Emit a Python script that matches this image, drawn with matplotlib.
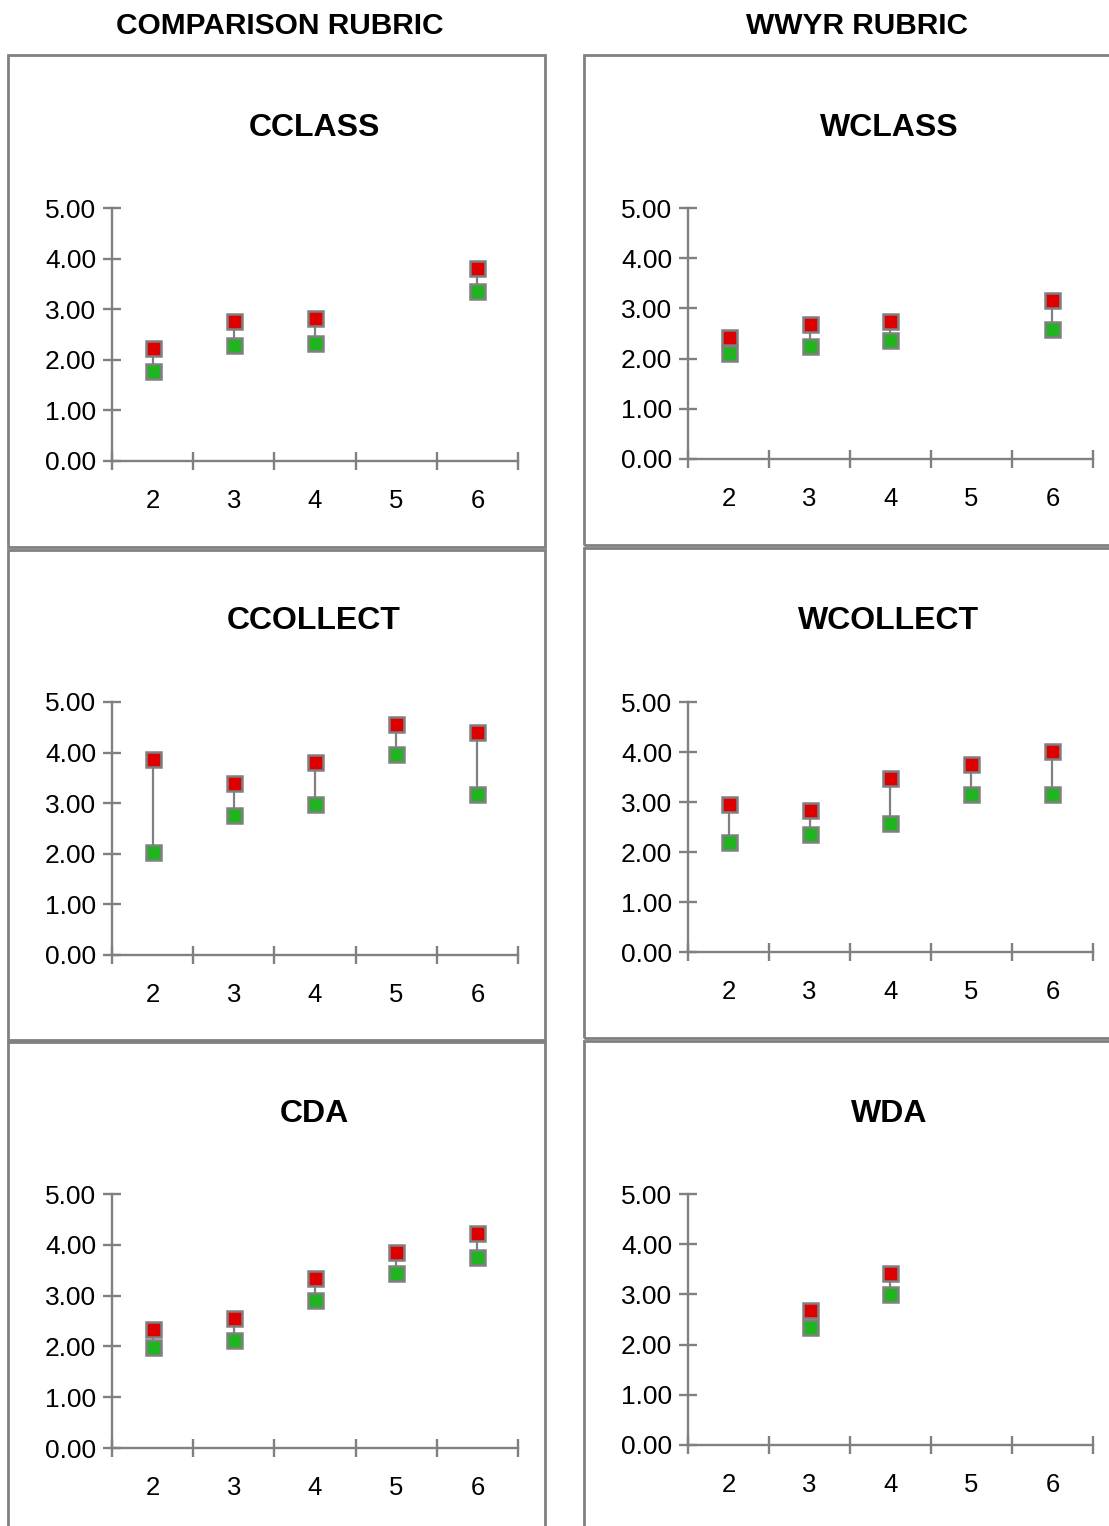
import numpy as np
import matplotlib
matplotlib.use("Agg")
import matplotlib.pyplot as plt
from matplotlib.patches import Rectangle

plt.rcParams['font.family'] = ['Liberation Sans', 'DejaVu Sans']

grades = ['2', '3', '4', '5', '6']
nan = np.nan

# red (upper) and green (lower) marks per grade
cclass_high = [2.24, 2.76, 2.82, nan, 3.81]
cclass_low = [1.77, 2.29, 2.34, nan, 3.35]
wclass_high = [2.43, 2.69, 2.74, nan, 3.17]
wclass_low = [2.11, 2.26, 2.37, nan, 2.58]
ccollect_high = [3.87, 3.40, 3.81, 4.56, 4.40]
ccollect_low = [2.03, 2.76, 2.98, 3.98, 3.19]
wcollect_high = [2.96, 2.85, 3.49, 3.76, 4.02]
wcollect_low = [2.21, 2.37, 2.59, 3.17, 3.17]
cda_high = [2.34, 2.55, 3.34, 3.86, 4.23]
cda_low = [1.98, 2.13, 2.92, 3.44, 3.76]
wda_high = [nan, 2.69, 3.42, nan, nan]
wda_low = [nan, 2.36, 3.00, nan, nan]

column_titles = ['COMPARISON RUBRIC', 'WWYR RUBRIC']
panels = [
    ('CCLASS', cclass_high, cclass_low),
    ('WCLASS', wclass_high, wclass_low),
    ('CCOLLECT', ccollect_high, ccollect_low),
    ('WCOLLECT', wcollect_high, wcollect_low),
    ('CDA', cda_high, cda_low),
    ('WDA', wda_high, wda_low),
]

W, H = 1109, 1526
GRAY = '#808080'
RED = '#dd0000'
GREEN = '#20b420'

fig = plt.figure(figsize=(W / 100, H / 100), dpi=100)

# pixel layout: (axis left, axis right, y of 0, y of 5), frame box, title x
axes_px = [
    (112, 518, 461, 208), (688, 1093, 459, 208),
    (112, 518, 955, 702), (688, 1093, 952, 702),
    (112, 518, 1448, 1194), (688, 1093, 1445, 1194),
]
frames_px = [
    (8, 545, 55, 547), (584, 1120, 55, 545),
    (8, 545, 550, 1040), (584, 1120, 548, 1038),
    (8, 545, 1042, 1540), (584, 1120, 1041, 1540),
]
title_y = [128, 128, 621, 621, 1114, 1114]
title_x = [314, 889]


def fx(px):
    return px / W


def fy(py):
    return 1 - py / H


for (x0, x1, y0, y1) in frames_px:
    fig.add_artist(Rectangle((fx(x0), fy(y1)), fx(x1 - x0), (y1 - y0) / H,
                             fill=False, edgecolor=GRAY, linewidth=2,
                             transform=fig.transFigure))

for i, (name, high, low) in enumerate(panels):
    l, r, b, t = axes_px[i]
    ax = fig.add_axes([fx(l), fy(b), fx(r - l), (b - t) / H])
    x = np.arange(len(grades))
    high = np.array(high, dtype=float)
    low = np.array(low, dtype=float)
    ax.vlines(x, low, high, color=GRAY, linewidth=1.6, zorder=2)
    ax.plot(x, high, 's', color=RED, markersize=10.8, markeredgecolor=GRAY,
            markeredgewidth=1.8, zorder=3, clip_on=False)
    ax.plot(x, low, 's', color=GREEN, markersize=10.8, markeredgecolor=GRAY,
            markeredgewidth=1.8, zorder=3, clip_on=False)

    ax.set_xlim(-0.5, len(grades) - 0.5)
    ax.set_ylim(0, 5)
    ax.set_yticks(np.arange(0, 6, 1))
    ax.set_yticklabels([f'{v:.2f}' for v in np.arange(0, 6, 1)])
    ax.set_xticks(np.arange(-0.5, len(grades), 1))
    ax.set_xticklabels([])
    ax.set_xticks(x, minor=True)
    ax.set_xticklabels(grades, minor=True)

    for s in ['top', 'right']:
        ax.spines[s].set_visible(False)
    for s in ['left', 'bottom']:
        ax.spines[s].set_color(GRAY)
        ax.spines[s].set_linewidth(1.7)
    ax.tick_params(axis='both', which='major', direction='inout', length=12.5,
                   width=1.7, color=GRAY, labelsize=19, labelcolor='black')
    ax.tick_params(axis='y', pad=5)
    ax.tick_params(axis='x', which='minor', length=0, pad=20, labelsize=18.5)
    ax.patch.set_alpha(0)

    fig.text(fx(title_x[i % 2]), fy(title_y[i]), name, ha='center', va='center',
             fontsize=23, fontweight='bold')

fig.text(fx(280), fy(26), column_titles[0], ha='center', va='center',
         fontsize=21.5, fontweight='bold')
fig.text(fx(857), fy(26), column_titles[1], ha='center', va='center',
         fontsize=21.5, fontweight='bold')

fig.savefig('out.png', dpi=100, facecolor='white')
